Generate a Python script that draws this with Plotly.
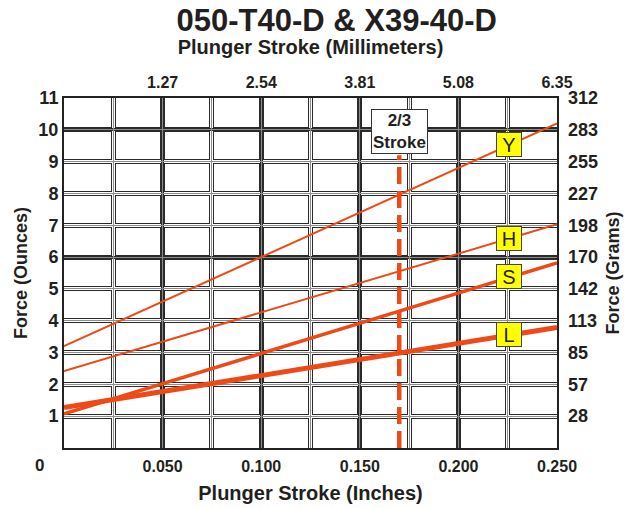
import plotly.graph_objects as go

# ---- data ----
stroke_in = [0.0, 0.25]
spring_Y = [3.20, 10.20]
spring_H = [2.42, 7.03]
spring_S = [1.07, 5.82]
spring_L = [1.27, 3.79]

series_names = ["Y", "H", "S", "L"]
series_values = [spring_Y, spring_H, spring_S, spring_L]
series_widths = [2, 2, 3.5, 5]

label_x = [0.2255, 0.2255, 0.2255, 0.2255]
label_y = [9.54, 6.60, 5.39, 3.57]

two_thirds_x = [0.17, 0.17]
two_thirds_y = [0.0, 9.2]

inch_tick_vals = [0.05, 0.10, 0.15, 0.20, 0.25]
inch_tick_text = ["0.050", "0.100", "0.150", "0.200", "0.250"]
mm_tick_vals = [1.27, 2.54, 3.81, 5.08, 6.35]
mm_tick_text = ["1.27", "2.54", "3.81", "5.08", "6.35"]
oz_tick_vals = [1, 2, 3, 4, 5, 6, 7, 8, 9, 10, 11]
gram_tick_text = ["28", "57", "85", "113", "142", "170", "198", "227", "255", "283", "312"]

LINE = "#EE4A17"
TXT = "#231f20"
FONT = "Liberation Sans, Arial, sans-serif"

fig = go.Figure()

# empty helper traces to register the overlay grid subplots
for i in range(2, 7):
    fig.add_trace(go.Scatter(x=[], y=[], xaxis=f"x{i}", yaxis=f"y{i}",
                             showlegend=False, hoverinfo="skip"))

for name, vals, w in zip(series_names, series_values, series_widths):
    fig.add_trace(go.Scatter(x=stroke_in, y=vals, mode="lines", name=name,
                             line=dict(color=LINE, width=w), showlegend=False,
                             hoverinfo="skip"))

fig.add_trace(go.Scatter(x=two_thirds_x, y=two_thirds_y, mode="lines",
                         line=dict(color=LINE, width=4.5, dash="17px,7px"),
                         showlegend=False, hoverinfo="skip"))

for name, lx, ly in zip(series_names, label_x, label_y):
    fig.add_annotation(x=lx, y=ly, xref="x", yref="y", text=name, showarrow=False,
                       font=dict(family=FONT, size=20, color=TXT),
                       bgcolor="#FFFF00", bordercolor="#444", borderwidth=1,
                       width=24, height=23, borderpad=0)

fig.add_annotation(x=0.17, y=9.94, xref="x", yref="y", text="<b>2/3<br>Stroke</b>",
                   showarrow=False, font=dict(family=FONT, size=17, color=TXT),
                   bgcolor="white", bordercolor="#333", borderwidth=1, borderpad=1)

fig.add_annotation(x=-0.049, y=-0.051, xref="paper", yref="paper", text="<b>0</b>",
                   xanchor="center", yanchor="middle",
                   showarrow=False, font=dict(family=FONT, size=17, color=TXT))

XR = [0, 0.25]
YR = [0, 11]
blank = dict(showticklabels=False, ticks="", zeroline=False, showline=False, automargin=False)
BOLD16 = dict(size=16, color=TXT, weight="bold")
BOLD18 = dict(size=18, color=TXT, weight="bold")

layout = dict(
    width=627, height=508,
    margin=dict(l=64, r=70, t=98, b=60, autoexpand=False),
    paper_bgcolor="white", plot_bgcolor="white",
    font=dict(family=FONT, color=TXT),
    title=dict(text="<b>050-T40-D &amp; X39-40-D</b>", x=0.537, xanchor="center",
               y=0.96, yanchor="middle", font=dict(size=31, color=TXT)),
    xaxis=dict(range=XR, tickmode="array", tickvals=inch_tick_vals, ticktext=inch_tick_text,
               showgrid=False, zeroline=False, showline=True, linecolor="#222", linewidth=2,
               mirror=True, ticks="", tickfont=BOLD16, ticklabelstandoff=3, automargin=False,
               title=dict(text="<b>Plunger Stroke (Inches)</b>", font=dict(size=20, color=TXT),
                          standoff=12)),
    yaxis=dict(range=YR, tickmode="array", tickvals=oz_tick_vals,
               showgrid=False, zeroline=False, showline=True, linecolor="#222", linewidth=2,
               mirror=True, ticks="", tickfont=BOLD18, ticklabelstandoff=0, automargin=False,
               title=dict(text="<b>Force (Ounces)</b>", font=dict(size=18, color=TXT),
                          standoff=6)),
)

# layered grid: black band, white gap, dark fill on heavy lines, grey centre
grid_specs = [
    (2, "#2a2a2a", 5, dict(tickmode="linear", tick0=0, dtick=0.025),
     dict(tickmode="linear", tick0=0, dtick=1)),
    (3, "#ffffff", 3, dict(tickmode="linear", tick0=0, dtick=0.025),
     dict(tickmode="linear", tick0=0, dtick=1)),
    (4, "#2a2a2a", 3, dict(tickmode="linear", tick0=0, dtick=0.05),
     dict(tickmode="array", tickvals=[6, 10])),
    (5, "#8c8c8c", 1.3, dict(tickmode="linear", tick0=0, dtick=0.025),
     dict(tickmode="linear", tick0=0, dtick=1)),
]
for i, col, w, xt, yt in grid_specs:
    layout[f"xaxis{i}"] = dict(range=XR, overlaying="x", anchor=f"y{i}", showgrid=True,
                               gridcolor=col, gridwidth=w, **xt, **blank)
    layout[f"yaxis{i}"] = dict(range=YR, overlaying="y", anchor=f"x{i}", showgrid=True,
                               gridcolor=col, gridwidth=w, **yt, **blank)

layout["xaxis6"] = dict(range=[0, 6.35], overlaying="x", side="top", anchor="y6",
                        tickmode="array", tickvals=mm_tick_vals, ticktext=mm_tick_text,
                        showgrid=False, zeroline=False, showline=False, ticks="",
                        tickfont=BOLD16, ticklabelstandoff=6, automargin=False,
                        title=dict(text="<b>Plunger Stroke (Millimeters)</b>",
                                   font=dict(size=20, color=TXT), standoff=13))
layout["yaxis6"] = dict(range=YR, overlaying="y", side="right", anchor="x6",
                        tickmode="array", tickvals=oz_tick_vals, ticktext=gram_tick_text,
                        showgrid=False, zeroline=False, showline=False, ticks="",
                        tickfont=BOLD18, ticklabelstandoff=10, automargin=False,
                        title=dict(text="<b>Force (Grams)</b>", font=dict(size=18, color=TXT),
                                   standoff=9))

fig.update_layout(**layout)
fig.write_html("out.html", config={"displayModeBar": False},
               post_script="document.body.style.margin='0';")
